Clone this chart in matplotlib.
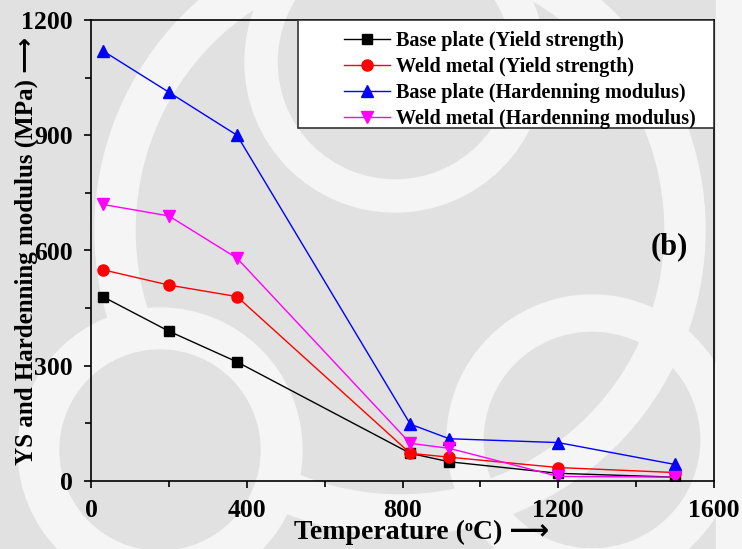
import matplotlib
matplotlib.use('Agg')
import matplotlib.pyplot as plt
from matplotlib.patches import Wedge, Circle, Rectangle
from matplotlib.ticker import MultipleLocator

# temperatures (deg C)
temperature = [30, 200, 375, 820, 920, 1200, 1500]

# MPa
base_ys = [480, 390, 310, 72, 50, 20, 10]
weld_ys = [550, 510, 480, 72, 62, 35, 22]
base_hm = [1120, 1012, 900, 148, 110, 100, 43]
weld_hm = [720, 690, 580, 98, 85, 12, 10]

labels = ['Base plate (Yield strength)', 'Weld metal (Yield strength)',
          'Base plate (Hardenning modulus)', 'Weld metal (Hardenning modulus)']

FONT = ['Liberation Serif', 'DejaVu Sans']
plt.rcParams['font.family'] = FONT
plt.rcParams['font.weight'] = 'bold'
plt.rcParams['axes.labelweight'] = 'bold'

W, H = 742, 549
GRAY = '#e1e1e1'
LIGHT = '#f5f5f5'
fig = plt.figure(figsize=(W / 100, H / 100), dpi=100)
fig.patch.set_facecolor(GRAY)

# watermark-like background, in pixel coords
bg = fig.add_axes([0, 0, 1, 1], zorder=0)
bg.set_xlim(0, W)
bg.set_ylim(H, 0)
bg.axis('off')
bg.add_patch(Wedge((400, 230), 305, 0, 360, width=40, color=LIGHT))
bg.add_patch(Wedge((395, 62), 150, 0, 360, width=32, color=LIGHT))
bg.add_patch(Circle((160, 450), 142, color=LIGHT))
bg.add_patch(Circle((160, 450), 100, color=GRAY))
bg.add_patch(Wedge((592, 440), 145, 0, 360, width=36, color=LIGHT))
bg.add_patch(Rectangle((716, 0), 30, H, color=LIGHT))

ax = fig.add_axes([91 / W, 1 - 481 / H, (714 - 91) / W, (481 - 20) / H], zorder=1)
ax.set_facecolor('none')

ax.plot(temperature, base_ys, color='black', marker='s', markersize=7, lw=1, label=labels[0])
ax.plot(temperature, weld_ys, color='red', marker='o', markersize=8, lw=1, label=labels[1])
ax.plot(temperature, base_hm, color='blue', marker='^', markersize=9, lw=1, label=labels[2])
ax.plot(temperature, weld_hm, color='magenta', marker='v', markersize=9, lw=1, label=labels[3])

ax.set_xlim(0, 1600)
ax.set_ylim(0, 1200)
ax.xaxis.set_major_locator(MultipleLocator(400))
ax.xaxis.set_minor_locator(MultipleLocator(200))
ax.yaxis.set_major_locator(MultipleLocator(300))
ax.yaxis.set_minor_locator(MultipleLocator(150))
ax.tick_params(which='both', direction='out', width=1.2, labelsize=18.5, pad=8)
ax.tick_params(which='major', length=5)
ax.tick_params(which='minor', length=4)
for s in ax.spines.values():
    s.set_linewidth(1.2)

ax.set_xlabel('Temperature (ᵒC) ⟶', fontsize=20, labelpad=0)
ax.xaxis.set_label_coords(0.53, -0.085)
ax.set_ylabel('YS and Hardenning modulus (MPa) ⟶', fontsize=18)
ax.yaxis.set_label_coords(-0.085, 0.5)

ax.text(0.929, 0.508, '(b)', transform=ax.transAxes, fontsize=22,
        ha='center', va='center')

# legend box drawn like the original (wider than its contents)
ax.add_patch(Rectangle(((298 - 91) / 623, (481 - 128) / 461), 1 - (298 - 91) / 623,
                       (128 - 20) / 461, transform=ax.transAxes, facecolor='white',
                       edgecolor='#333333', lw=1.2, zorder=3))
leg = ax.legend(loc='upper left', bbox_to_anchor=((344 - 91) / 623, (481 - 31) / 461),
                frameon=False, fontsize=14.5, borderpad=0, borderaxespad=0,
                handlelength=2.3, handletextpad=0.3, labelspacing=0.3)
leg.set_zorder(4)

fig.savefig('out.png', dpi=100, facecolor=fig.get_facecolor())
